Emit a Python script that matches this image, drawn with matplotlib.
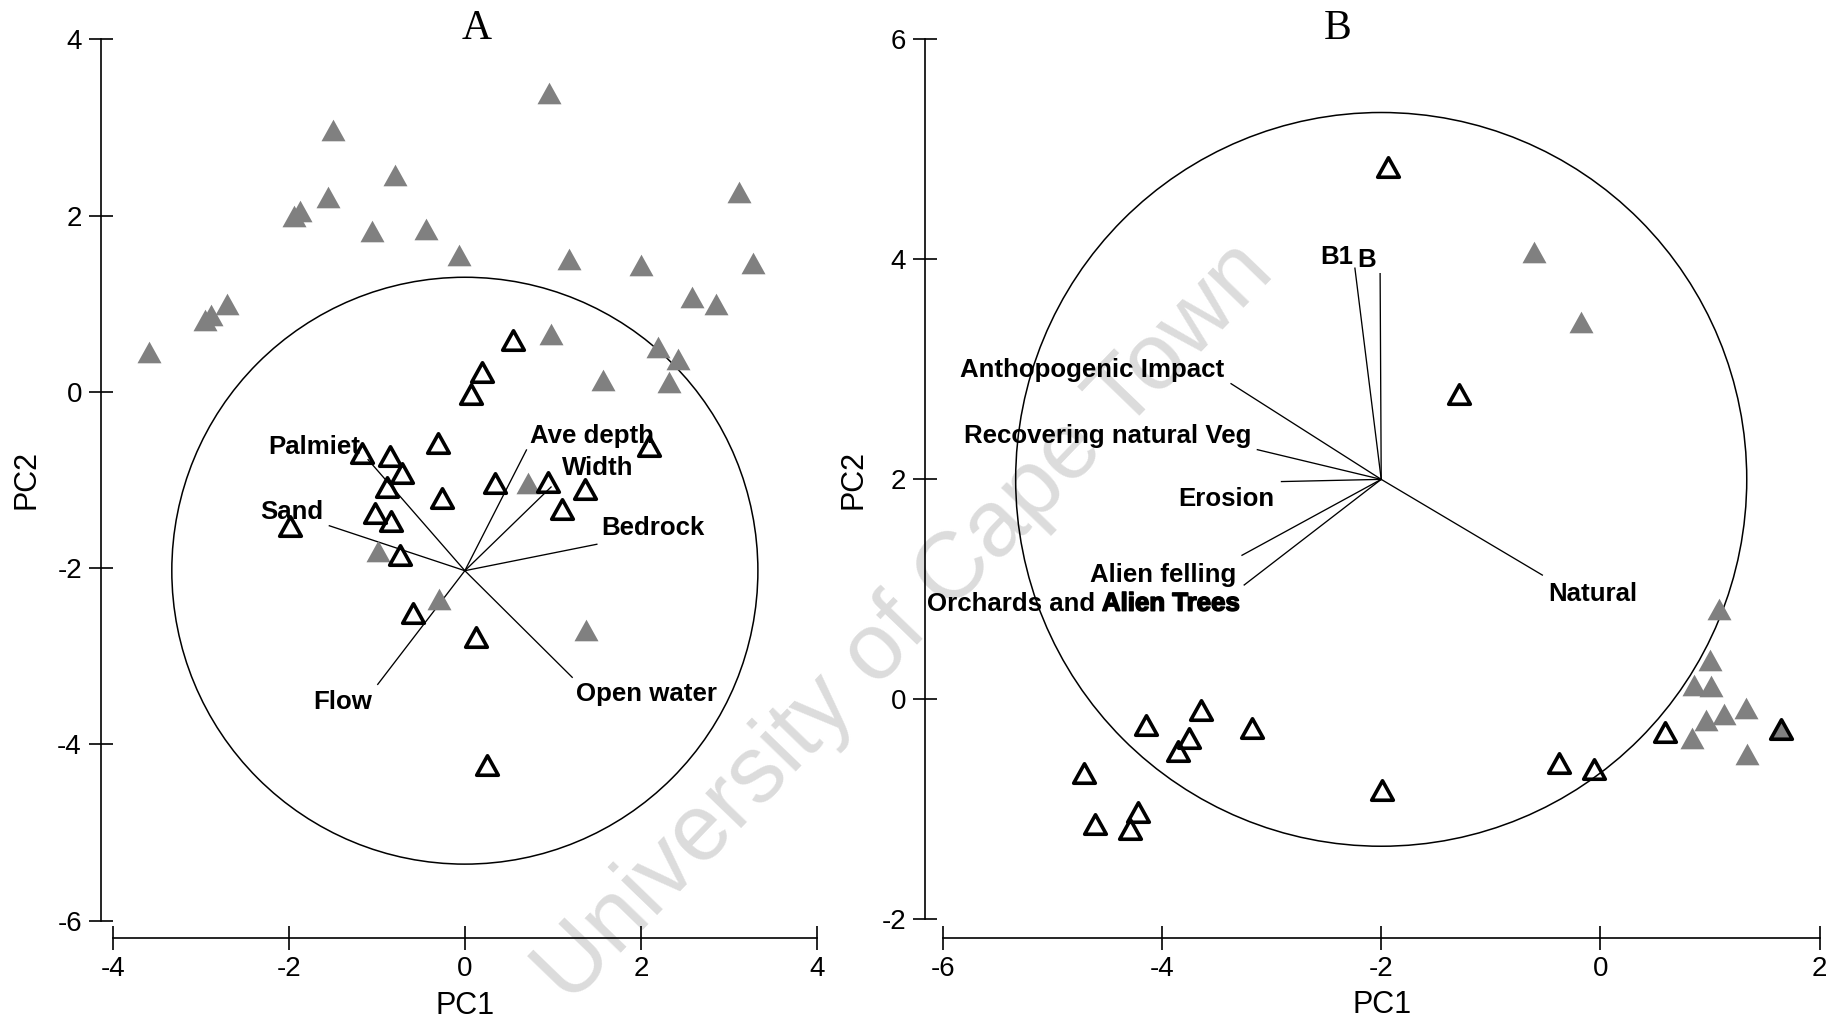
import matplotlib
matplotlib.use("Agg")
import matplotlib.pyplot as plt
import matplotlib.patheffects as pe
from matplotlib.patches import Ellipse
from matplotlib.path import Path
from matplotlib.markers import MarkerStyle

plt.rcParams['font.family'] = ['Liberation Sans', 'DejaVu Sans']
plt.rcParams['axes.unicode_minus'] = False

# ---- panel A: site scores ----
a_grey_x = [-3.59, -2.95, -2.89, -2.70, -1.94, -1.87, -1.56, -1.50, -1.06, -0.79,
            -0.44, -0.07, 0.96, 0.98, 1.18, 2.00, 2.58, 2.85, 3.11, 3.27,
            2.20, 2.42, 2.32, 1.57, 0.72, -0.99, -0.29, 1.38]
a_grey_y = [0.45, 0.81, 0.87, 1.00, 1.99, 2.05, 2.21, 2.97, 1.82, 2.46,
            1.85, 1.55, 3.39, 0.66, 1.51, 1.44, 1.08, 1.00, 2.27, 1.46,
            0.51, 0.37, 0.11, 0.13, -1.04, -1.81, -2.35, -2.70]
a_open_x = [-1.99, -1.02, -0.84, -0.74, -0.59, 0.13, 0.25, -0.26, -0.88, -0.71,
            0.34, 0.94, 1.37, 1.10, 2.09, 0.55, 0.19, 0.07, -0.31, -1.17, -0.85]
a_open_y = [-1.52, -1.37, -1.47, -1.85, -2.51, -2.78, -4.24, -1.20, -1.08, -0.92,
            -1.04, -1.02, -1.10, -1.33, -0.62, 0.59, 0.23, -0.02, -0.58, -0.70, -0.73]

# ---- panel A: variable vectors ----
a_vars = ['Palmiet', 'Sand', 'Ave depth', 'Width', 'Bedrock', 'Open water', 'Flow']
a_end_x = [-1.10, -1.54, 0.70, 0.98, 1.50, 1.22, -0.99]
a_end_y = [-0.77, -1.52, -0.66, -1.08, -1.73, -3.24, -3.32]
a_origin = (0.0, -2.03)
a_radius = 3.33

# ---- panel B: site scores ----
b_grey_x = [-0.61, -0.18, 1.08, 1.00, 0.85, 1.01, 1.33, 1.13, 0.96, 0.84, 1.34, 1.65]
b_grey_y = [4.07, 3.43, 0.82, 0.36, 0.13, 0.12, -0.08, -0.13, -0.19, -0.35, -0.50, -0.27]
b_open_x = [-1.94, -1.29, -4.71, -4.61, -4.22, -4.29, -4.15, -3.64, -3.75, -3.85,
            -3.18, -1.99, -0.38, -0.06, 0.59, 1.65]
b_open_y = [4.84, 2.78, -0.67, -1.13, -1.02, -1.18, -0.23, -0.10, -0.35, -0.47,
            -0.26, -0.82, -0.58, -0.63, -0.30, -0.27]

# ---- panel B: variable vectors ----
b_vars = ['B1', 'B', 'Anthopogenic Impact', 'Recovering natural Veg', 'Erosion',
          'Alien felling', 'Alien Trees', 'Natural']
b_end_x = [-2.24, -2.01, -3.37, -3.13, -2.91, -3.27, -3.25, -0.53]
b_end_y = [3.92, 3.87, 2.87, 2.27, 1.98, 1.31, 1.04, 1.13]
b_origin = (-2.0, 2.0)
b_radius = 3.335

# label anchors (data coords) and alignment
a_lab = [(-2.23, -0.63, 'left'), (-2.32, -1.36, 'left'), (0.74, -0.50, 'left'),
         (1.10, -0.87, 'left'), (1.55, -1.55, 'left'), (1.26, -3.43, 'left'),
         (-1.72, -3.52, 'left')]
b_lab = [(-2.56, 4.02, 'left'), (-2.22, 3.99, 'left'), (-5.84, 2.99, 'left'),
         (-5.81, 2.39, 'left'), (-3.85, 1.82, 'left'), (-3.32, 1.13, 'right'),
         (-3.29, 0.87, 'right'), (-0.48, 0.96, 'left')]

tri_path = Path([(-1, -0.9), (1, -0.9), (0, 0.9), (-1, -0.9)],
                [Path.MOVETO, Path.LINETO, Path.LINETO, Path.CLOSEPOLY])
TRI = MarkerStyle(tri_path, joinstyle='miter')
GREY = '#808080'

fig = plt.figure(figsize=(18.41, 10.22), dpi=100)
axA = fig.add_axes([0.0613, 0.0993, 0.3824, 0.8622])
axB = fig.add_axes([0.5121, 0.1004, 0.4763, 0.8611])


def draw_panel(ax, gx, gy, ox, oy, origin, ex, ey, radius, names, labs,
               xlim, ylim, title, title_x, left_out, bottom_out):
    ax.patch.set_visible(False)
    ax.add_patch(Ellipse(origin, 2 * radius, 2 * radius, fill=False,
                         edgecolor='black', lw=1.1, zorder=1))
    for x1, y1 in zip(ex, ey):
        ax.plot([origin[0], x1], [origin[1], y1], color='black', lw=0.95, zorder=2)
    ax.plot(gx, gy, ls='none', marker=TRI, ms=17.3, mfc=GREY, mec=GREY, mew=0,
            zorder=3, clip_on=False)
    ax.plot(ox, oy, ls='none', marker=TRI, ms=15.6, mfc='none', mec='black', mew=2.6,
            zorder=4, clip_on=False)
    texts = {}
    for name, (lx, ly, ha) in zip(names, labs):
        texts[name] = ax.text(lx, ly, name, fontsize=18.6, fontweight='bold',
                              ha=ha, va='center', zorder=5)
    ax.set_xlim(*xlim)
    ax.set_ylim(*ylim)
    for s in ['top', 'right']:
        ax.spines[s].set_visible(False)
    ax.spines['left'].set_position(('outward', left_out))
    ax.spines['bottom'].set_position(('outward', bottom_out))
    ax.spines['left'].set_bounds(*ylim)
    ax.spines['bottom'].set_bounds(*xlim)
    for s in ['left', 'bottom']:
        ax.spines[s].set_linewidth(1.2)
    ax.set_xticks(range(xlim[0], xlim[1] + 1, 2))
    ax.set_yticks(range(ylim[0], ylim[1] + 1, 2))
    ax.tick_params(direction='inout', length=17, width=1.2, labelsize=20, pad=5)
    ax.set_xlabel('PC1', fontsize=22)
    ax.set_ylabel('PC2', fontsize=22)
    ax.text(title_x, 1.0, title, transform=ax.transAxes, fontsize=30,
            family='Liberation Serif', ha='center', va='baseline')
    return texts


draw_panel(axA, a_grey_x, a_grey_y, a_open_x, a_open_y, a_origin, a_end_x, a_end_y,
           a_radius, a_vars, a_lab, (-4, 4), (-6, 4), 'A', 0.5165, 8.8, 12.4)
tb = draw_panel(axB, b_grey_x, b_grey_y, b_open_x, b_open_y, b_origin, b_end_x, b_end_y,
                b_radius, b_vars, b_lab, (-6, 2), (-2, 6), 'B', 0.4507, 13, 13.2)

# two labels printed on top of each other in the original: "Alien Trees" looks heavier
alien = tb['Alien Trees']
alien.set_path_effects([pe.withStroke(linewidth=1.1, foreground='black')])
axB.annotate('Orchards and', xy=(0, 0.5), xycoords=alien, xytext=(-5, 0),
             textcoords='offset points', fontsize=18.6, fontweight='bold',
             ha='right', va='center', zorder=5)

axA.xaxis.set_label_coords(0.5, -0.097)
axA.yaxis.set_label_coords(-0.122, 0.5)
axB.xaxis.set_label_coords(0.5006, -0.097)
axB.yaxis.set_label_coords(-0.102, 0.5)
for ax in (axA, axB):
    ax.xaxis.label.set_va('center')
    ax.yaxis.label.set_va('center')

fig.text(0.492, 0.39, 'University of Cape Town', rotation=46, fontsize=68,
         color='#dcdcdc', ha='center', va='center', rotation_mode='anchor', zorder=-1)

fig.savefig('out.png', dpi=100)
